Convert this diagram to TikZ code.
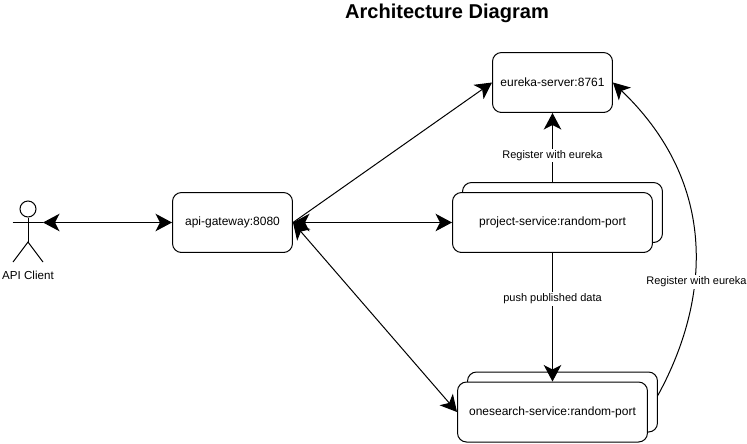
\documentclass[tikz,border=0pt]{standalone}
\usepackage{fontspec}
\setmainfont{Liberation Sans}
\usetikzlibrary{arrows.meta}
\tikzset{
  box/.style={draw, fill=white, rounded corners=0.18cm, line width=0.02cm, font=\fontsize{6.83pt}{8pt}\selectfont},
  link/.style={line width=0.02cm, {Stealth[length=0.33cm,width=0.35cm,inset=0.09cm]}-{Stealth[length=0.33cm,width=0.35cm,inset=0.09cm]}},
  oneway/.style={line width=0.02cm, -{Stealth[length=0.33cm,width=0.35cm,inset=0.09cm]}},
  tag/.style={fill=white, inner sep=1pt, font=\fontsize{6.26pt}{8pt}\selectfont}
}
\begin{document}
\begin{tikzpicture}[x=0.02cm, y=-0.02cm]
    \useasboundingbox (0,0) rectangle (747,443);

    % Title
    \node[font=\bfseries\fontsize{11.4pt}{13pt}\selectfont] (title) at (447,13) {Architecture Diagram};

    % Nodes
    \node[box, minimum width=2.4cm, minimum height=1.2cm] (gateway) at (232.5,222.5) {api-gateway:8080};
    \node[box, minimum width=2.4cm, minimum height=1.2cm] (eureka) at (552.5,82.5) {eureka-server:8761};
    \node[box, minimum width=4cm, minimum height=1.2cm] (projectback) at (562.5,212.5) {};
    \node[box, minimum width=4cm, minimum height=1.2cm] (project) at (552.5,222.5) {project-service:random-port};
    \node[box, minimum width=3.8cm, minimum height=1.2cm] (searchback) at (562.5,402) {};
    \node[box, minimum width=3.8cm, minimum height=1.2cm] (search) at (552.5,412) {onesearch-service:random-port};

    % Actor
    \node[draw, circle, line width=0.02cm, minimum size=0.32cm, inner sep=0pt] (head) at (28,209) {};
    \coordinate (handleft) at (12.5,222.5);
    \coordinate (handright) at (43,222.5);
    \coordinate (hip) at (28,242);
    \coordinate (footleft) at (13,262);
    \coordinate (footright) at (43,262);
    \draw[line width=0.02cm] (head) -- (hip);
    \draw[line width=0.02cm] (handleft) -- (handright);
    \draw[line width=0.02cm] (footleft) -- (hip) -- (footright);
    \node[font=\fontsize{6.6pt}{8pt}\selectfont] (client) at (28,275.5) {API Client};

    % Free ends
    \coordinate (projecttop) at (552.5,182.5);
    \coordinate (searchside) at (657.5,396);
    \coordinate (searchtop) at (552.5,381.5);

    % Arrows
    \draw[link] (handright) -- (gateway.west);
    \draw[oneway] (gateway.east) -- (eureka.west);
    \draw[link] (gateway.east) -- (project.west);
    \draw[link] (gateway.east) -- (search.west);
    \draw[oneway] (projecttop) -- node[tag, pos=0.39] (registerone) {Register with eureka} (eureka.south);
    \draw[oneway] (project.south) -- node[tag, pos=0.355] (pushdata) {push published data} (searchtop);
    \draw[oneway] (searchside) .. controls (705,310) and (725,190) .. (eureka.east);

    \node[tag] (registertwo) at (696.5,282) {Register with eureka};
\end{tikzpicture}
\end{document}
